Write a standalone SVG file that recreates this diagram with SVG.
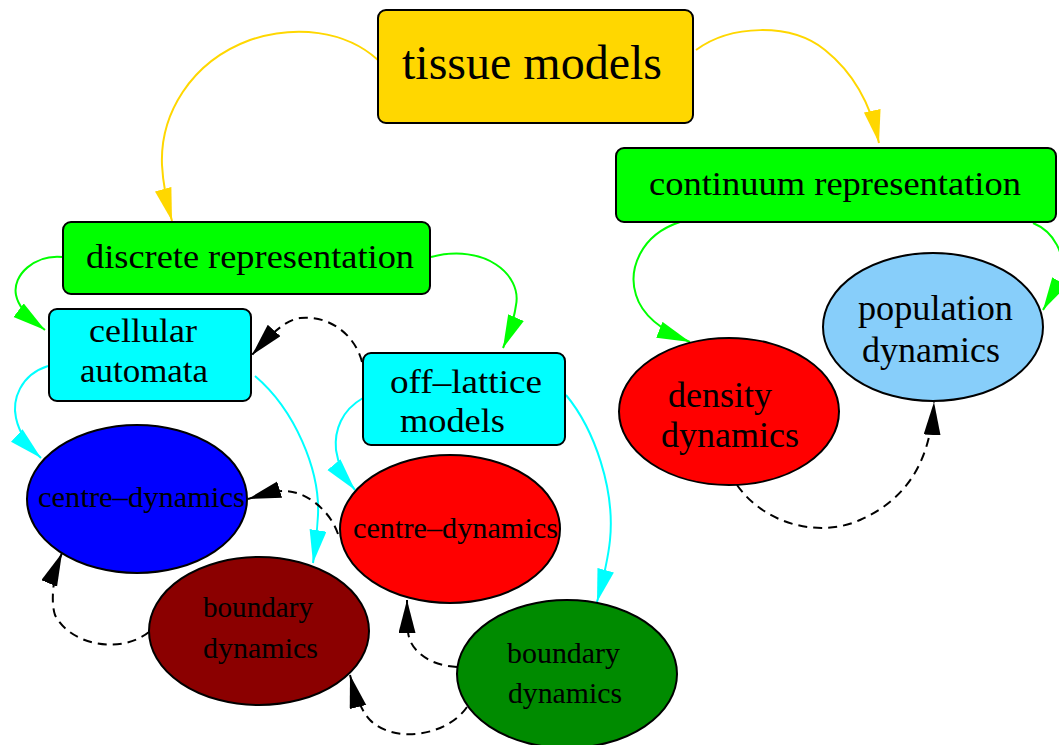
<svg xmlns="http://www.w3.org/2000/svg" width="1059" height="745" viewBox="0 0 1059 745">
<style>
.box{stroke:#000;stroke-width:2}
.ell{stroke:#000;stroke-width:2}
.t{font-family:"Liberation Serif","Times New Roman",serif;fill:#000}
.e{fill:none;stroke-width:2}
.gold{stroke:#FFD700}
.grn{stroke:#00FF00}
.cyn{stroke:#00FFFF}
.dsh{stroke:#000;stroke-dasharray:9,6}
</style>
<defs>
<marker id="aGold" markerUnits="userSpaceOnUse" markerWidth="34" markerHeight="18" refX="33" refY="8.5" orient="auto"><path d="M0,0 L33,8.5 L0,17 Z" fill="#FFD700"/></marker>
<marker id="aGrn" markerUnits="userSpaceOnUse" markerWidth="34" markerHeight="18" refX="33" refY="8.5" orient="auto"><path d="M0,0 L33,8.5 L0,17 Z" fill="#00FF00"/></marker>
<marker id="aCyn" markerUnits="userSpaceOnUse" markerWidth="34" markerHeight="18" refX="33" refY="8.5" orient="auto"><path d="M0,0 L33,8.5 L0,17 Z" fill="#00FFFF"/></marker>
<marker id="aBlk" markerUnits="userSpaceOnUse" markerWidth="34" markerHeight="18" refX="33" refY="8.5" orient="auto"><path d="M0,0 L33,8.5 L0,17 Z" fill="#000"/></marker>
</defs>
<rect width="1059" height="745" fill="#fff"/>
<g id="connectors">
<path class="e gold" marker-end="url(#aGold)" d="M378,60 C345,30 295,25 250,40 C190,62 160,115 162,165 C163,185 167,203 172,221"/>
<path class="e gold" marker-end="url(#aGold)" d="M696,50 C730,25 790,22 825,50 C850,70 870,100 879,143"/>
<path class="e grn" marker-end="url(#aGrn)" d="M63,257 C35,254 12,275 16,295 C18,305 25,315 45,330"/>
<path class="e grn" marker-end="url(#aGrn)" d="M431,257 C485,243 522,275 516,305 C514,320 509,334 503,348"/>
<path class="e grn" marker-end="url(#aGrn)" d="M680,222 C640,235 628,270 636,295 C642,315 660,330 690,342"/>
<path class="e grn" marker-end="url(#aGrn)" d="M1033,223 C1055,232 1065,255 1062,275 C1058,288 1050,298 1043,310"/>
<path class="e cyn" marker-end="url(#aCyn)" d="M48,366 C20,375 12,400 16,418 C19,432 28,446 41,458"/>
<path class="e cyn" marker-end="url(#aCyn)" d="M255,376 C295,410 320,470 318,515 C317,535 315,550 313,563"/>
<path class="e cyn" marker-end="url(#aCyn)" d="M363,398 C342,410 334,430 336,450 C338,465 345,478 355,490"/>
<path class="e cyn" marker-end="url(#aCyn)" d="M566,395 C595,430 615,490 610,540 C608,560 603,580 597,602"/>
<path class="e dsh" marker-end="url(#aBlk)" d="M362,362 C355,335 330,315 300,318 C285,320 270,335 252,355"/>
<path class="e dsh" marker-end="url(#aBlk)" d="M338,534 C330,510 305,490 282,491 C270,492 258,496 248,499"/>
<path class="e dsh" marker-end="url(#aBlk)" d="M149,632 C120,655 70,645 55,615 C50,600 54,572 62,553"/>
<path class="e dsh" marker-end="url(#aBlk)" d="M457,667 C430,666 408,650 408,630 C408,620 407,610 407,600"/>
<path class="e dsh" marker-end="url(#aBlk)" d="M467,707 C448,735 395,745 370,720 C362,712 355,695 350,675"/>
<path class="e dsh" marker-end="url(#aBlk)" d="M737,485 C765,525 820,538 860,520 C900,502 930,470 934,402"/>
</g>
<g id="tissue_models">
<rect class="box" x="378" y="10" width="315" height="113" rx="8" fill="#FFD700"/>
<text class="t" x="402" y="79" font-size="48" textLength="260" lengthAdjust="spacingAndGlyphs">tissue models</text>
</g>
<g id="continuum_representation">
<rect class="box" x="616" y="148" width="440" height="74" rx="8" fill="#00FF00"/>
<text class="t" x="649" y="195" font-size="34" textLength="372" lengthAdjust="spacingAndGlyphs">continuum representation</text>
</g>
<g id="discrete_representation">
<rect class="box" x="63" y="222" width="367" height="72" rx="8" fill="#00FF00"/>
<text class="t" x="86" y="268" font-size="34" textLength="328" lengthAdjust="spacingAndGlyphs">discrete representation</text>
</g>
<g id="cellular_automata">
<rect class="box" x="49" y="309" width="202" height="92" rx="8" fill="#00FFFF"/>
<text class="t" x="89" y="342" font-size="33" textLength="108" lengthAdjust="spacingAndGlyphs">cellular</text>
<text class="t" x="80" y="382" font-size="33" textLength="128" lengthAdjust="spacingAndGlyphs">automata</text>
</g>
<g id="off_lattice_models">
<rect class="box" x="363" y="353" width="202" height="92" rx="8" fill="#00FFFF"/>
<text class="t" x="390" y="393" font-size="33" textLength="152" lengthAdjust="spacingAndGlyphs">off–lattice</text>
<text class="t" x="400" y="432" font-size="33" textLength="105" lengthAdjust="spacingAndGlyphs">models</text>
</g>
<g id="ca_centre_dynamics">
<ellipse class="ell" cx="137" cy="499" rx="110" ry="74" fill="#0000FF"/>
<text class="t" x="38" y="507" font-size="30" textLength="207" lengthAdjust="spacingAndGlyphs">centre–dynamics</text>
</g>
<g id="ca_boundary_dynamics">
<ellipse class="ell" cx="259" cy="631" rx="110" ry="74" fill="#8B0000"/>
<text class="t" x="203" y="617" font-size="29" textLength="110" lengthAdjust="spacingAndGlyphs">boundary</text>
<text class="t" x="203" y="658" font-size="29" textLength="115" lengthAdjust="spacingAndGlyphs">dynamics</text>
</g>
<g id="ol_centre_dynamics">
<ellipse class="ell" cx="450" cy="529" rx="110" ry="74" fill="#FF0000"/>
<text class="t" x="353" y="538" font-size="30" textLength="205" lengthAdjust="spacingAndGlyphs">centre–dynamics</text>
</g>
<g id="ol_boundary_dynamics">
<ellipse class="ell" cx="567" cy="674" rx="110" ry="74" fill="#008B00"/>
<text class="t" x="507" y="663" font-size="29" textLength="113" lengthAdjust="spacingAndGlyphs">boundary</text>
<text class="t" x="508" y="703" font-size="29" textLength="114" lengthAdjust="spacingAndGlyphs">dynamics</text>
</g>
<g id="density_dynamics">
<ellipse class="ell" cx="729" cy="411.5" rx="110" ry="73.5" fill="#FF0000"/>
<text class="t" x="668" y="407" font-size="35" textLength="104" lengthAdjust="spacingAndGlyphs">density</text>
<text class="t" x="661" y="447" font-size="35" textLength="138" lengthAdjust="spacingAndGlyphs">dynamics</text>
</g>
<g id="population_dynamics">
<ellipse class="ell" cx="933" cy="327" rx="110" ry="74" fill="#87CEFA"/>
<text class="t" x="858" y="320" font-size="35" textLength="155" lengthAdjust="spacingAndGlyphs">population</text>
<text class="t" x="862" y="362" font-size="35" textLength="138" lengthAdjust="spacingAndGlyphs">dynamics</text>
</g>
</svg>
